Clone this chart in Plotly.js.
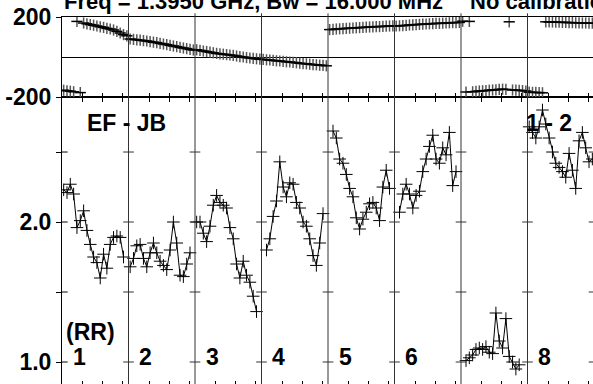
<!DOCTYPE html>
<html><head><meta charset="utf-8">
<script src="https://cdn.plot.ly/plotly-3.0.1.min.js"></script>
<style>html,body{margin:0;padding:0;overflow:hidden;background:#fff}#c{width:600px;height:390px}</style>
</head><body><div id="c"></div>
<script>
// ---- data (8 IFs, 20 channels each) ----
const ifLabels = ['1','2','3','4','5','6','','8'];
const nChan = 20;
const amp1 = [2.23,2.21,2.27,2.20,1.96,2.01,2.08,1.94,1.84,1.75,1.71,1.60,1.77,1.67,1.84,1.89,1.90,1.89,1.75,null];
const amp2 = [1.68,1.74,1.83,1.84,1.74,1.68,1.78,1.85,1.78,1.72,1.69,1.66,1.80,2.00,1.85,1.62,1.61,1.70,1.78,null];
const amp3 = [2.00,2.00,1.92,1.86,1.97,2.12,2.19,2.14,2.12,2.10,1.96,1.88,1.70,1.60,1.72,1.62,1.57,1.47,1.36,null];
const amp4 = [null,1.80,1.88,2.04,2.15,2.43,2.25,2.18,2.28,2.27,2.14,2.10,2.00,1.97,1.88,1.76,1.69,1.85,2.06,null];
const amp5 = [null,2.65,2.60,2.45,2.42,2.34,2.24,2.18,2.03,1.95,2.02,2.07,2.13,2.14,2.10,2.01,2.25,2.37,2.24,null];
const amp6 = [null,2.07,2.20,2.27,2.20,2.10,2.19,2.22,2.36,2.45,2.54,2.62,2.45,2.42,2.53,2.48,2.64,2.26,2.36,null];
const amp7 = [null,1.01,1.03,1.05,1.09,1.10,1.09,1.11,1.07,1.06,1.35,1.15,1.10,1.31,1.04,1.00,0.95,0.98,null,null];
const amp8 = [2.68,2.64,2.60,2.68,2.80,2.70,2.60,2.50,2.42,2.39,2.36,2.32,2.49,2.37,2.24,2.58,2.64,2.53,2.43,2.45];

const ph1 = [-166,-169,-171,-174,178,-178,170,166,162,159,155,151,148,143,140,135,128,120,112,106];
const ph2 = [90,88,86,84,82,80,77,74,72,68,65,62,58,55,52,48,45,42,38,35];
const ph3 = [36,33,30,27,24,21,18,16,14,12,10,8,5,2,0,-3,-5,-7,-9,-11];
const ph4 = [-12,-14,-15,-17,-19,-20,-22,-24,-25,-27,-29,-31,-33,-34,-36,-38,-39,-41,-42,-44];
const ph5 = [137,138,140,141,142,143,144,145,146,147,148,149,150,151,152,152,153,154,155,156];
const ph6 = [155,156,157,158,160,161,162,163,164,165,166,167,168,168,169,170,171,172,172,173];
const ph7 = [179,-175,178,-174,-172,-170,-169,-168,-166,-165,-164,-162,-161,-162,176,-165,-166,-167,-168,-170];
const ph8 = [-176,-177,-177,-178,-179,176,175,175,174,174,173,173,172,172,171,171,170,170,169,169];
const phaseErr = 28;

const ampIF = [amp1,amp2,amp3,amp4,amp5,amp6,amp7,amp8];
const phIF = [ph1,ph2,ph3,ph4,ph5,ph6,ph7,ph8];

// ---- build series ----
const ax=[], ay=[], px=[], py=[];
ampIF.forEach((arr,k)=>{
  arr.forEach((v,j)=>{ ax.push(k*nChan+j+0.5); ay.push(v); });
  ax.push(null); ay.push(null);
});
phIF.forEach((arr,k)=>{
  arr.forEach((v,j)=>{ px.push(k*nChan+j+0.5); py.push(v); });
});

const F = {family:'Liberation Sans, Arial, sans-serif', size:23, color:'#000', weight:'bold'};
const xMax = 161.8;
const tickv = [];
for(let k=0;k<9;k++){ [6.2,12.2,18.2].forEach(o=>tickv.push(k*nChan+o)); }

const shapes=[];
for(let k=1;k<=8;k++){
  shapes.push({type:'line',xref:'x',yref:'paper',x0:k*nChan,x1:k*nChan,y0:0,y1:1.01,line:{color:'#333',width:1}});
  [1.0,1.5,2.0,2.5].forEach(v=>shapes.push({type:'line',xref:'x',yref:'y',x0:k*nChan-1.6,x1:k*nChan+1.6,y0:v,y1:v,line:{color:'#333',width:1}}));
}
[1.0,1.5,2.0,2.5].forEach(v=>shapes.push({type:'line',xref:'x',yref:'y',x0:0,x1:1.7,y0:v,y1:v,line:{color:'#000',width:1}}));

const ann=[
  {text:'Freq = 1.3950 GHz, Bw = 16.000 MHz', xref:'paper', yref:'paper', x:0, y:1.043, xanchor:'left', yanchor:'middle', showarrow:false, font:Object.assign({},F,{size:22})},
  {text:'No calibration', xref:'paper', yref:'paper', x:0.7546, y:1.043, xanchor:'left', yanchor:'middle', showarrow:false, font:Object.assign({},F,{size:22})},
  {text:'EF - JB', xref:'x', yref:'y', x:6.9, y:2.707, xanchor:'left', yanchor:'middle', showarrow:false, font:F},
  {text:'1 - 2', xref:'x', yref:'y', x:138.9, y:2.707, xanchor:'left', yanchor:'middle', showarrow:false, font:F},
  {text:'(RR)', xref:'x', yref:'y', x:0.6, y:1.215, xanchor:'left', yanchor:'middle', showarrow:false, font:F}
];
ifLabels.forEach((t,k)=>{ if(t) ann.push({text:t, xref:'x', yref:'y', x:k*nChan+2.7, y:1.036, xanchor:'left', yanchor:'middle', showarrow:false, font:F}); });

const traces=[
  {x:px, y:py, type:'scatter', mode:'markers', xaxis:'x2', yaxis:'y2',
   marker:{symbol:'line-ew-open', size:8, color:'#000', line:{color:'#000',width:1.5}},
   error_y:{visible:true, type:'constant', symmetric:true, value:phaseErr, color:'#555', thickness:1.5, width:0}, hoverinfo:'skip'},
  {x:ax, y:ay, type:'scatter', mode:'lines+markers', connectgaps:false, xaxis:'x', yaxis:'y',
   line:{color:'#000',width:1}, marker:{symbol:'cross-thin-open', size:9, color:'#000', line:{color:'#000',width:1}}, hoverinfo:'skip'}
];

const layout={
  width:600, height:390, margin:{l:62,r:0,t:17,b:4}, paper_bgcolor:'#fff', plot_bgcolor:'#fff', showlegend:false,
  font:F,
  xaxis:{domain:[0,1], anchor:'y', range:[0,xMax], showline:true, mirror:'ticks', linecolor:'#000', linewidth:1,
    ticks:'inside', ticklen:5, tickcolor:'#000', tickvals:tickv, showticklabels:false, showgrid:false, zeroline:false},
  xaxis2:{domain:[0,1], anchor:'y2', range:[0,xMax], showline:true, mirror:true, linecolor:'#000', linewidth:1,
    ticks:'inside', ticklen:4, tickcolor:'#000', tickvals:tickv, showticklabels:false, showgrid:false, zeroline:false},
  yaxis:{domain:[0,0.7832], anchor:'x', range:[0.8286,2.893], showline:true, linecolor:'#000', linewidth:1,
    ticks:'outside', ticklen:5, tickcolor:'#000', tickvals:[1.0,1.5,2.0,2.5], ticktext:['1.0','','2.0',''],
    tickfont:F, showgrid:false, zeroline:false},
  yaxis2:{domain:[0.7832,1], anchor:'x2', range:[-200,200], showline:true, linecolor:'#000', linewidth:1,
    ticks:'outside', ticklen:5, tickcolor:'#000', tickvals:[-200,200], ticktext:['-200','200'],
    tickfont:F, showgrid:false, zeroline:true, zerolinecolor:'#000', zerolinewidth:1},
  shapes:shapes, annotations:ann
};
Plotly.newPlot('c', traces, layout, {staticPlot:true, displayModeBar:false});
</script></body></html>
